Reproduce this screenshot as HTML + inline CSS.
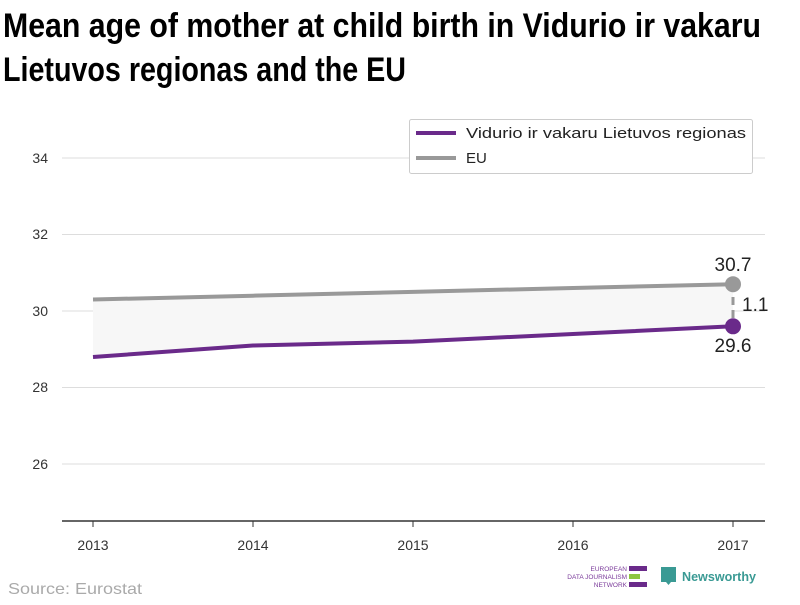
<!DOCTYPE html>
<html><head><meta charset="utf-8"><style>
body{margin:0;width:800px;height:600px;background:#fff;overflow:hidden;font-family:"Liberation Sans",sans-serif}
</style></head><body>
<svg width="800" height="600" xmlns="http://www.w3.org/2000/svg" font-family="'Liberation Sans',sans-serif">
<text x="3" y="37" font-size="34" font-weight="bold" fill="#000" textLength="758" lengthAdjust="spacingAndGlyphs">Mean age of mother at child birth in Vidurio ir vakaru</text>
<text x="3" y="81" font-size="34" font-weight="bold" fill="#000" textLength="403" lengthAdjust="spacingAndGlyphs">Lietuvos regionas and the EU</text>
<g stroke="#ddd" stroke-width="1">
<line x1="62" x2="765" y1="158" y2="158"/><line x1="62" x2="765" y1="234.5" y2="234.5"/>
<line x1="62" x2="765" y1="311" y2="311"/><line x1="62" x2="765" y1="387.5" y2="387.5"/>
<line x1="62" x2="765" y1="464" y2="464"/></g>
<g font-size="14" fill="#333" text-anchor="end">
<text x="48" y="163">34</text><text x="48" y="239">32</text><text x="48" y="316">30</text><text x="48" y="392">28</text><text x="48" y="469">26</text></g>
<line x1="62" x2="765" y1="521" y2="521" stroke="#333" stroke-width="1.5"/>
<g stroke="#333"><line x1="93" x2="93" y1="521" y2="527"/><line x1="253" x2="253" y1="521" y2="527"/><line x1="413" x2="413" y1="521" y2="527"/><line x1="573" x2="573" y1="521" y2="527"/><line x1="733" x2="733" y1="521" y2="527"/></g>
<g font-size="14" fill="#333" text-anchor="middle">
<text x="93" y="550">2013</text><text x="253" y="550">2014</text><text x="413" y="550">2015</text><text x="573" y="550">2016</text><text x="733" y="550">2017</text></g>
<polygon points="93,299.5 253,295.7 413,291.9 573,288 733,284.2 733,326.3 573,334 413,341.6 253,345.5 93,357" fill="#f7f7f7"/>
<polyline points="93,299.5 253,295.7 413,291.9 573,288 733,284.2" fill="none" stroke="#999" stroke-width="4"/>
<polyline points="93,357 253,345.5 413,341.6 573,334 733,326.3" fill="none" stroke="#6a2a8a" stroke-width="4"/>
<line x1="733" x2="733" y1="284" y2="326" stroke="#999" stroke-width="3" stroke-dasharray="8,5"/>
<circle cx="733" cy="284.2" r="8" fill="#999"/>
<circle cx="733" cy="326.3" r="8" fill="#6a2a8a"/>
<text x="733" y="271" font-size="19" fill="#222" text-anchor="middle">30.7</text>
<text x="733" y="352" font-size="19" fill="#222" text-anchor="middle">29.6</text>
<text x="742" y="311" font-size="19" fill="#222">1.1</text>
<rect x="409.5" y="119.5" width="343" height="54" fill="#fff" stroke="#ccc" rx="2"/>
<line x1="416" x2="456" y1="133" y2="133" stroke="#6a2a8a" stroke-width="4"/>
<line x1="416" x2="456" y1="158" y2="158" stroke="#999" stroke-width="4"/>
<text x="466" y="138" font-size="15" fill="#222" textLength="280" lengthAdjust="spacingAndGlyphs">Vidurio ir vakaru Lietuvos regionas</text>
<text x="466" y="163" font-size="15" fill="#222">EU</text>
<text x="8" y="594" font-size="16" fill="#aaa" textLength="134" lengthAdjust="spacingAndGlyphs">Source: Eurostat</text>
<g font-size="6.5" fill="#7a3a9a" text-anchor="end">
<text x="627" y="571">EUROPEAN</text><text x="627" y="579">DATA JOURNALISM</text><text x="627" y="587">NETWORK</text></g>
<rect x="629" y="566" width="18" height="5" fill="#6a2a8a"/>
<rect x="629" y="574" width="11" height="5" fill="#8dc63f"/>
<rect x="629" y="582" width="18" height="5" fill="#6a2a8a"/>
<path d="M661 567h15v15h-5l-2.5 3-2.5-3h-5z" fill="#3a9a94"/>
<text x="682" y="581" font-size="13" font-weight="bold" fill="#3a9a94" textLength="74" lengthAdjust="spacingAndGlyphs">Newsworthy</text>
</svg>
</body></html>
